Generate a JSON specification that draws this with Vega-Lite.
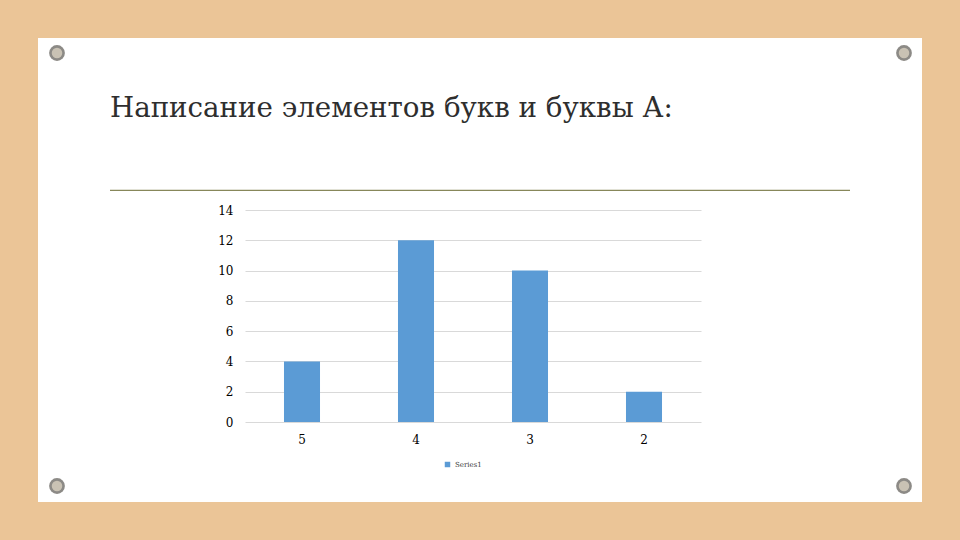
{
  "$schema": "https://vega.github.io/schema/vega-lite/v6.json",
  "width": 884,
  "height": 464,
  "autosize": {"type": "none"},
  "padding": 38,
  "background": "#ebc597",
  "config": {
    "view": {"fill": "#ffffff", "stroke": null},
    "font": "DejaVu Serif",
    "title": {"font": "DejaVu Serif"}
  },
  "title": {
    "text": "Написание элементов букв и буквы А:",
    "anchor": "start",
    "frame": "group",
    "orient": "top",
    "baseline": "alphabetic",
    "offset": -107,
    "dx": 72,
    "fontSize": 27.7,
    "fontWeight": "normal",
    "color": "#2e2e2e",
    "font": "DejaVu Serif"
  },
  "layer": [
    {
      "data": {
        "values": [
          {"category": "5", "value": 4, "series": "Series1"},
          {"category": "4", "value": 12, "series": "Series1"},
          {"category": "3", "value": 10, "series": "Series1"},
          {"category": "2", "value": 2, "series": "Series1"}
        ]
      },
      "mark": {"type": "bar"},
      "encoding": {
        "x": {
          "field": "category",
          "type": "nominal",
          "sort": null,
          "scale": {"range": [207, 663], "paddingInner": 0.684, "paddingOuter": 0.342},
          "axis": {
            "title": null,
            "orient": "bottom",
            "offset": -80,
            "domain": false,
            "ticks": false,
            "labelAngle": 0,
            "labelPadding": 12,
            "labelFontSize": 12,
            "labelColor": "#000000",
            "labelFont": "DejaVu Serif"
          }
        },
        "y": {
          "field": "value",
          "type": "quantitative",
          "scale": {"domain": [0, 14], "range": [384, 172]},
          "axis": {
            "title": null,
            "orient": "left",
            "offset": -207,
            "values": [0, 2, 4, 6, 8, 10, 12, 14],
            "domain": false,
            "ticks": false,
            "labelPadding": 12,
            "labelFontSize": 12,
            "labelColor": "#000000",
            "labelFont": "DejaVu Serif",
            "gridColor": "#d9d9d9"
          }
        },
        "color": {
          "field": "series",
          "type": "nominal",
          "scale": {"range": ["#5b9bd5"]},
          "legend": {
            "title": null,
            "orient": "none",
            "legendX": 406,
            "legendY": 423,
            "symbolType": "square",
            "symbolSize": 30,
            "labelFontSize": 7,
            "labelFont": "DejaVu Serif",
            "labelColor": "#404040"
          }
        }
      }
    },
    {
      "data": {"values": [{"part": "separator"}]},
      "mark": {"type": "rule", "color": "#87875a", "strokeWidth": 1.2, "clip": false},
      "encoding": {
        "x": {"datum": 0, "type": "quantitative", "scale": {"domain": [0, 1], "range": [72, 812]}, "axis": null},
        "x2": {"datum": 1},
        "y": {"datum": 0, "type": "quantitative", "scale": {"domain": [0, 1], "range": [152.4, 153]}, "axis": null}
      }
    },
    {
      "data": {
        "values": [
          {"side": "left", "edge": "top"},
          {"side": "right", "edge": "top"},
          {"side": "left", "edge": "bottom"},
          {"side": "right", "edge": "bottom"}
        ]
      },
      "layer": [
        {
          "mark": {"type": "point", "filled": true, "color": "#8c8a86", "size": 250, "opacity": 1, "clip": false},
          "encoding": {
            "x": {"field": "side", "type": "nominal", "scale": {"type": "point", "padding": 0, "domain": ["left", "right"], "range": [19, 866]}, "axis": null},
            "y": {"field": "edge", "type": "nominal", "scale": {"type": "point", "padding": 0, "domain": ["top", "bottom"], "range": [15, 448]}, "axis": null}
          }
        },
        {
          "mark": {"type": "point", "filled": true, "color": "#c9c2b4", "size": 110, "opacity": 1, "clip": false},
          "encoding": {
            "x": {"field": "side", "type": "nominal", "scale": {"type": "point", "padding": 0, "domain": ["left", "right"], "range": [19, 866]}, "axis": null},
            "y": {"field": "edge", "type": "nominal", "scale": {"type": "point", "padding": 0, "domain": ["top", "bottom"], "range": [15, 448]}, "axis": null}
          }
        }
      ]
    }
  ],
  "resolve": {"scale": {"x": "independent", "y": "independent"}}
}
